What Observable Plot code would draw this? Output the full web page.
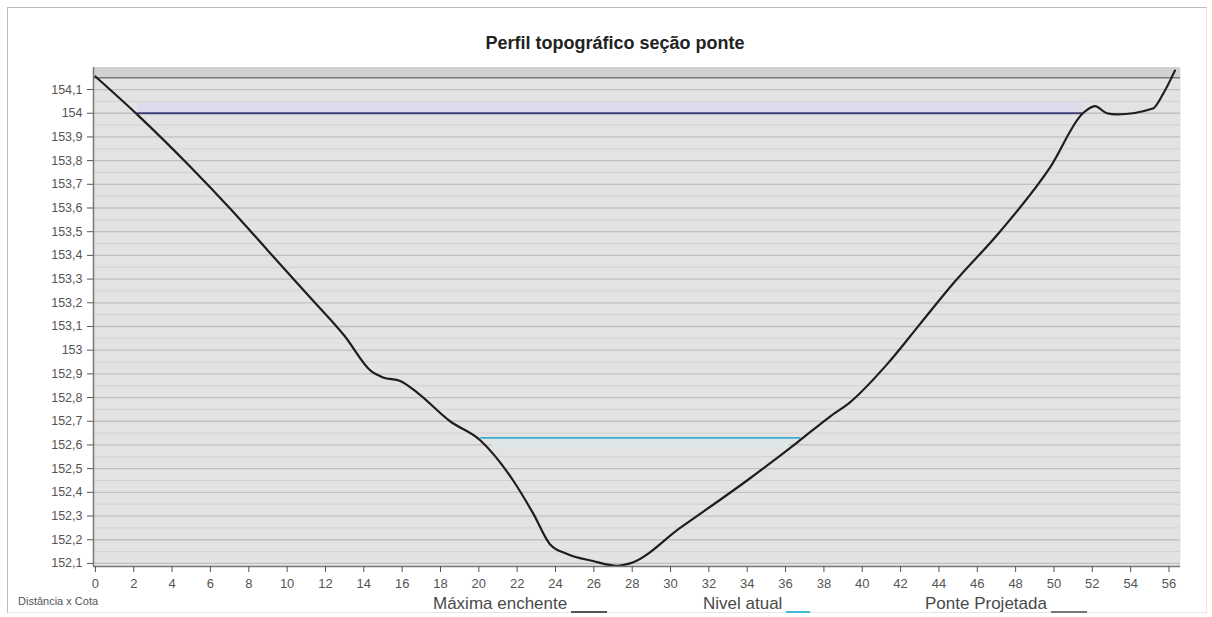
<!DOCTYPE html>
<html>
<head>
<meta charset="utf-8">
<script src="https://cdn.jsdelivr.net/npm/d3@7"></script>
<script src="https://cdn.jsdelivr.net/npm/@observablehq/plot@0.6"></script>
<style>
  body { margin: 0; background: #fff; font-family: "Liberation Sans", Arial, sans-serif; }
  #wrap { position: relative; width: 1212px; height: 617px; overflow: hidden; }
  #frame { position: absolute; left: 7px; top: 7px; width: 1200px; height: 606px; border: 1px solid #bdbdbd; border-right-color: #e6e6e6; border-bottom-color: #e6e6e6; box-sizing: border-box; }
  #title { position: absolute; left: 0; width: 1230px; top: 33px; text-align: center; font-weight: bold; font-size: 18px; color: #222; }
  #chart { position: absolute; left: 0; top: 60px; }
  .leg { position: absolute; top: 594px; font-size: 17px; color: #4a4a4a; white-space: nowrap; }
  .sw { display: inline-block; width: 36px; height: 0; border-top: 2px solid; vertical-align: -4px; margin-left: 4px; }
  #axisname { position: absolute; left: 18px; top: 595px; font-size: 11px; color: #555; }
</style>
</head>
<body>
<div id="wrap">
  <div id="frame"></div>
  <div id="title">Perfil topográfico seção ponte</div>
  <div id="chart"></div>
  <div id="axisname">Distância x Cota</div>
  <div class="leg" style="left:433px">Máxima enchente<span class="sw" style="border-color:#555"></span></div>
  <div class="leg" style="left:703px">Nivel atual<span class="sw" style="border-color:#3fb8d6;width:24px"></span></div>
  <div class="leg" style="left:925px">Ponte Projetada<span class="sw" style="border-color:#777"></span></div>
</div>
<script>
// Terrain profile (distance, elevation)
const profileX = [0, 2.24, 5, 7, 9, 11, 13, 14.4, 15, 15.9, 16.8, 18.5, 20.07, 21.79, 22.84, 23.72, 24.61, 25.96, 27.22, 27.89, 30.5, 33.99, 36.6, 38.32, 39.36, 41.29, 43.01, 44.73, 47.18, 49.79, 51.51, 52.14, 52.76, 53.28, 55.16, 55.68, 56.31];
const profileY = [154.155, 153.99, 153.77, 153.60, 153.42, 153.24, 153.06, 152.91, 152.885, 152.87, 152.82, 152.70, 152.62, 152.45, 152.31, 152.18, 152.14, 152.11, 152.09, 152.10, 152.25, 152.45, 152.61, 152.72, 152.78, 152.94, 153.11, 153.28, 153.50, 153.77, 154.00, 154.03, 154.00, 153.995, 154.02, 154.08, 154.18];

// Reference levels
const maxEnchenteX = [2.2, 51.5];
const maxEnchenteY = 154.0;
const nivelAtualX = [20.1, 36.8];
const nivelAtualY = 152.63;
const ponteX = [-0.1, 56.6];
const ponteY = 154.15;

// Ticks
const xTicks = [0, 2, 4, 6, 8, 10, 12, 14, 16, 18, 20, 22, 24, 26, 28, 30, 32, 34, 36, 38, 40, 42, 44, 46, 48, 50, 52, 54, 56];
const yTicks = [152.1, 152.2, 152.3, 152.4, 152.5, 152.6, 152.7, 152.8, 152.9, 153, 153.1, 153.2, 153.3, 153.4, 153.5, 153.6, 153.7, 153.8, 153.9, 154, 154.1];
const yTickLabels = ["152,1", "152,2", "152,3", "152,4", "152,5", "152,6", "152,7", "152,8", "152,9", "153", "153,1", "153,2", "153,3", "153,4", "153,5", "153,6", "153,7", "153,8", "153,9", "154", "154,1"];
const yMinor = [152.15, 152.25, 152.35, 152.45, 152.55, 152.65, 152.75, 152.85, 152.95, 153.05, 153.15, 153.25, 153.35, 153.45, 153.55, 153.65, 153.75, 153.85, 153.95, 154.05];

const profile = profileX.map((x, i) => ({x, y: profileY[i]}));
const xMin = -0.1, xMax = 56.6, yMin = 152.087, yMax = 154.193;

const chart = Plot.plot({
  width: 1212,
  height: 530,
  marginLeft: 93,
  marginRight: 32,
  marginTop: 7,
  marginBottom: 24,
  x: {domain: [xMin, xMax]},
  y: {domain: [yMin, yMax]},
  style: {fontFamily: "Liberation Sans, Arial, sans-serif", fontSize: "12.5px", color: "#555", background: "transparent", overflow: "visible"},
  marks: [
    Plot.frame({fill: "#e3e3e3", stroke: null}),
    Plot.rect([{}], {x1: xMin, x2: xMax, y1: 154.15, y2: yMax, fill: "#d2d2d2"}),
    Plot.ruleY(yMinor, {stroke: "#d2d2d2", strokeWidth: 1}),
    Plot.ruleY(yTicks, {stroke: "#c0c0c0", strokeWidth: 1.3}),
    Plot.rect([{}], {x1: maxEnchenteX[0], x2: maxEnchenteX[1], y1: 154.0, y2: 154.045, fill: "#dcdcec"}),
    Plot.rect([{}], {x1: 20.7, x2: 36.2, y1: 152.585, y2: 152.63, fill: "#dee6ea"}),
    Plot.ruleY([ponteY], {x1: ponteX[0], x2: ponteX[1], stroke: "#7a7a7a", strokeWidth: 1.6}),
    Plot.ruleY([maxEnchenteY], {x1: maxEnchenteX[0], x2: maxEnchenteX[1], stroke: "#3d3d78", strokeWidth: 1.8}),
    Plot.ruleY([nivelAtualY], {x1: nivelAtualX[0], x2: nivelAtualX[1], stroke: "#3aaed0", strokeWidth: 1.8}),
    Plot.line(profile, {x: "x", y: "y", stroke: "#1e1e1e", strokeWidth: 2.2, curve: "monotone-x"}),
    Plot.ruleX([xMin], {stroke: "#777", strokeWidth: 1.5}),
    Plot.ruleY([yMin], {stroke: "#777", strokeWidth: 1.5}),
    Plot.axisY(yTicks, {tickSize: 6, tickPadding: 5, tickFormat: (d, i) => yTickLabels[i], color: "#555", label: null}),
    Plot.axisX(xTicks, {tickSize: 6, tickPadding: 6, fontSize: 13, tickFormat: d => String(d), color: "#555", label: null})
  ]
});
document.getElementById("chart").appendChild(chart);
</script>
</body>
</html>
